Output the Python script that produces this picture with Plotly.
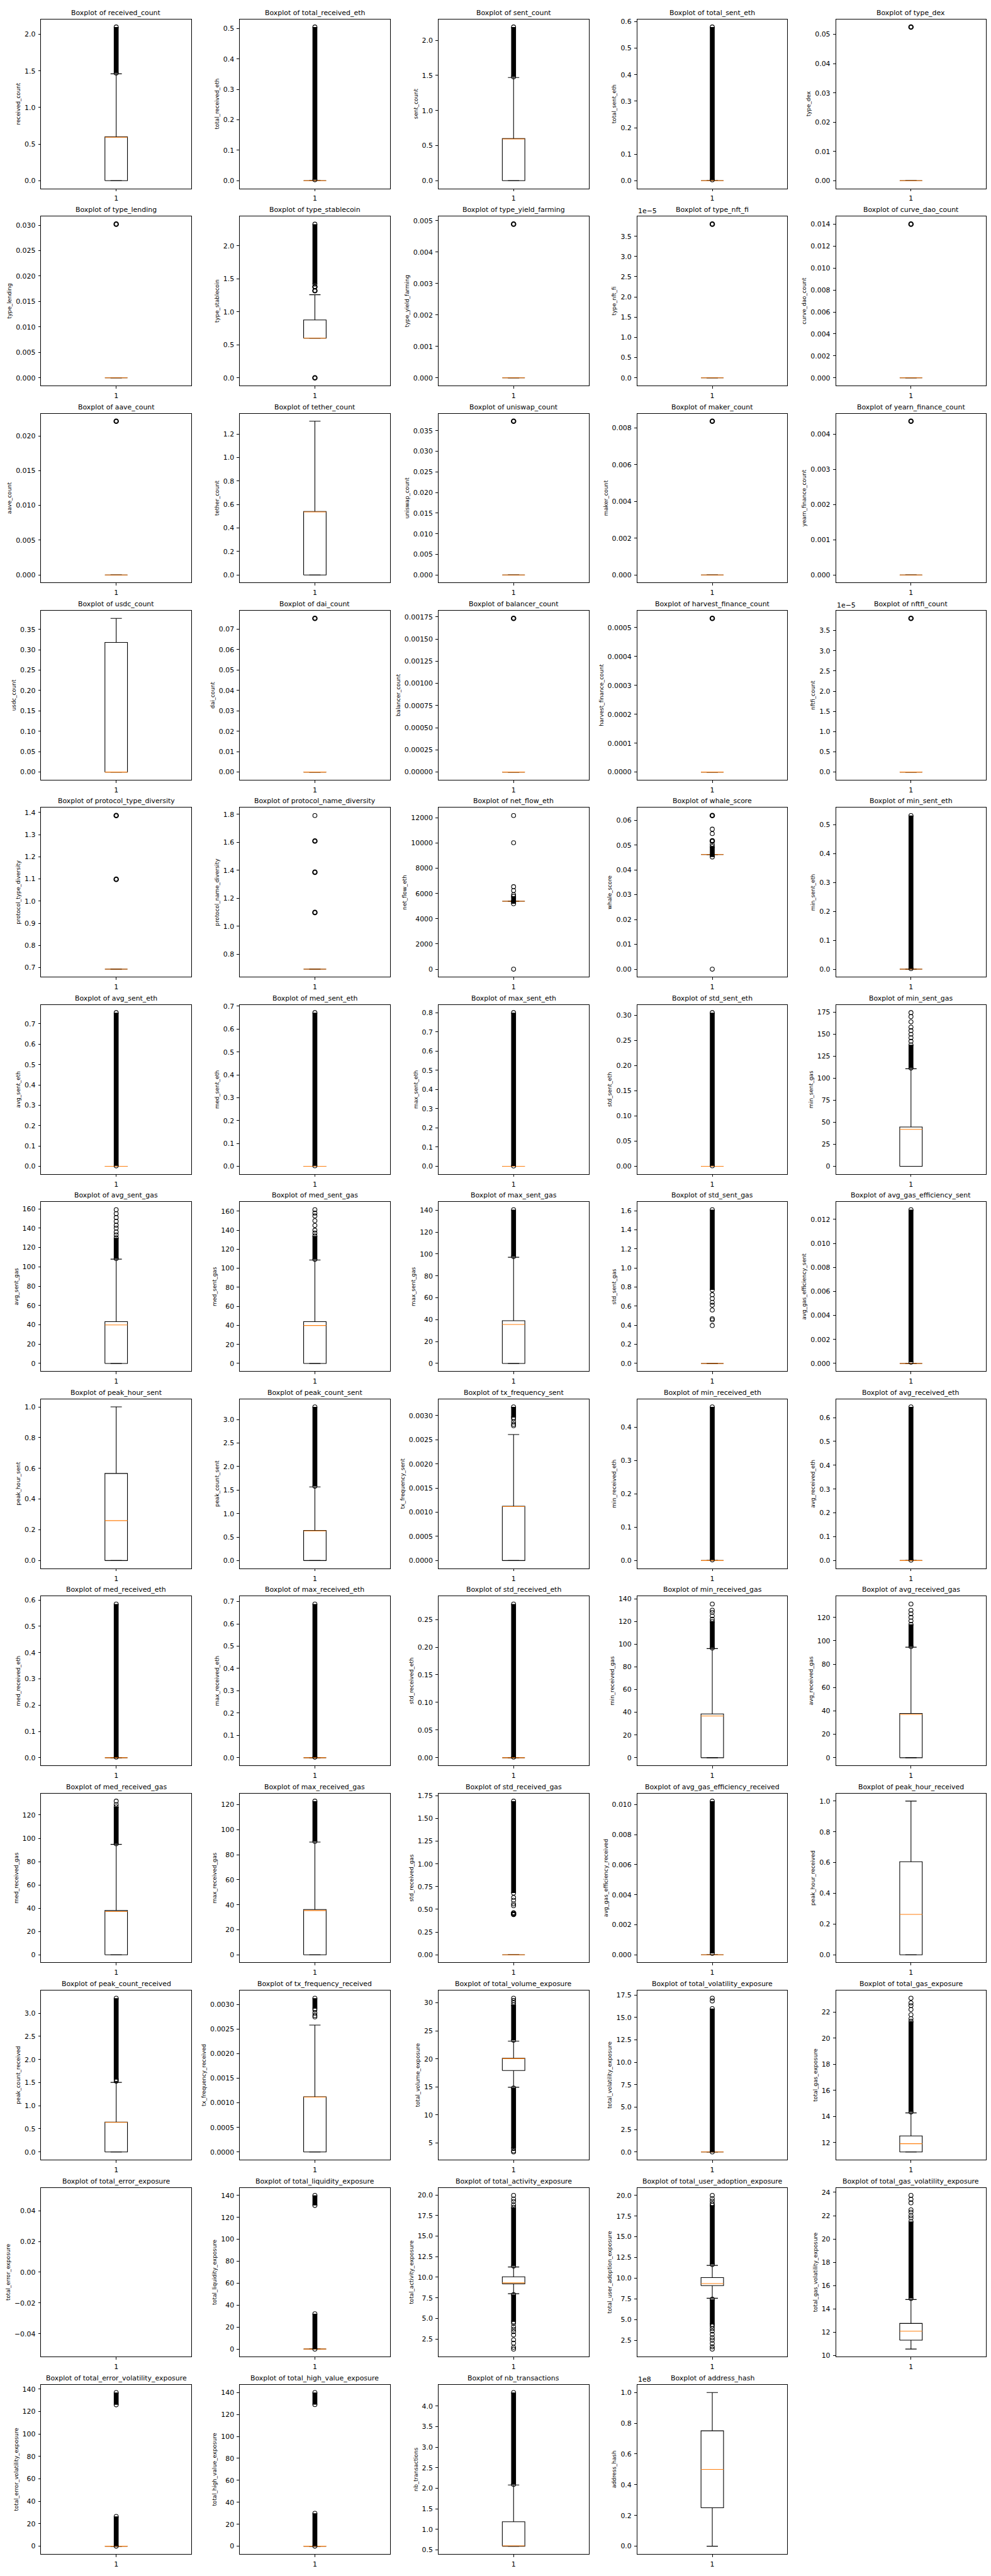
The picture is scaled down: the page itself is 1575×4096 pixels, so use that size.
import plotly.graph_objects as go

# ---------------- data ----------------
NAMES = [
    "received_count", "total_received_eth", "sent_count", "total_sent_eth", "type_dex",
    "type_lending", "type_stablecoin", "type_yield_farming", "type_nft_fi", "curve_dao_count",
    "aave_count", "tether_count", "uniswap_count", "maker_count", "yearn_finance_count",
    "usdc_count", "dai_count", "balancer_count", "harvest_finance_count", "nftfi_count",
    "protocol_type_diversity", "protocol_name_diversity", "net_flow_eth", "whale_score", "min_sent_eth",
    "avg_sent_eth", "med_sent_eth", "max_sent_eth", "std_sent_eth", "min_sent_gas",
    "avg_sent_gas", "med_sent_gas", "max_sent_gas", "std_sent_gas", "avg_gas_efficiency_sent",
    "peak_hour_sent", "peak_count_sent", "tx_frequency_sent", "min_received_eth", "avg_received_eth",
    "med_received_eth", "max_received_eth", "std_received_eth", "min_received_gas", "avg_received_gas",
    "med_received_gas", "max_received_gas", "std_received_gas", "avg_gas_efficiency_received", "peak_hour_received",
    "peak_count_received", "tx_frequency_received", "total_volume_exposure", "total_volatility_exposure", "total_gas_exposure",
    "total_error_exposure", "total_liquidity_exposure", "total_activity_exposure", "total_user_adoption_exposure", "total_gas_volatility_exposure",
    "total_error_volatility_exposure", "total_high_value_exposure", "nb_transactions", "address_hash",
]

Q1 = [
    0, 0, 0, 0, 0,
    0, 0.6, 0, 0, 0,
    0, 0, 0, 0, 0,
    0, 0, 0, 0, 0,
    0.6931, 0.6931, 5383, 0.0462, 0,
    0, 0, 0, 0, 0,
    0, 0, 0, 0, 0,
    0, 0, 0, 0, 0,
    0, 0, 0, 0, 0,
    0, 0, 0, 0, 0,
    0, 0, 17.92, 0, 11.29,
    None, 0, 9.2, 9.1, 11.32,
    0, 0, 0.588, 0.25e8,
]
MED = [
    0.594, 0, 0.594, 0, 0,
    0, 0.6, 0, 0, 0,
    0, 0.537, 0, 0, 0,
    0, 0, 0, 0, 0,
    0.6931, 0.6931, 5383, 0.0462, 0,
    0, 0, 0, 0, 42.0,
    39.8, 39.9, 35.6, 0, 0,
    0.26, 0.63, 0.001118, 0, 0,
    0, 0, 0, 36.8, 37.0,
    37.1, 35.4, 0, 0, 0.263,
    0.64, 0.001117, 20.03, 0, 11.92,
    None, 0, 9.32, 9.34, 12.09,
    0, 0, 0.598, 0.4995e8,
]
Q3 = [
    0.6, 0, 0.6, 0, 0,
    0, 0.877, 0, 0, 0,
    0, 0.541, 0, 0, 0,
    0.318, 0, 0, 0, 0,
    0.6931, 0.6931, 5383, 0.0462, 0,
    0, 0, 0, 0, 44.6,
    43.2, 43.9, 39.0, 0, 0,
    0.567, 0.64, 0.001125, 0, 0,
    0, 0, 0, 38.6, 37.8,
    38.0, 36.2, 0, 0, 0.606,
    0.645, 0.001122, 20.1, 0, 12.52,
    None, 0, 10.06, 10.07, 12.76,
    0, 0, 1.184, 0.751e8,
]
WLO = [
    0, 0, 0, 0, 0,
    0, 0.6, 0, 0, 0,
    0, 0, 0, 0, 0,
    0, 0, 0, 0, 0,
    0.6931, 0.6931, 5383, 0.0462, 0,
    0, 0, 0, 0, 0,
    0, 0, 0, 0, 0,
    0, 0, 0, 0, 0,
    0, 0, 0, 0, 0,
    0, 0, 0, 0, 0,
    0, 0, 14.93, 0, 11.29,
    None, 0, 8.0, 7.57, 10.56,
    0, 0, 0.588, 0,
]
WHI = [
    1.46, 0, 1.47, 0, 0,
    0, 1.26, 0, 0, 0,
    0, 1.31, 0, 0, 0,
    0.377, 0, 0, 0, 0,
    0.6931, 0.6931, 5383, 0.0462, 0,
    0, 0, 0, 0, 110.8,
    107.9, 108.7, 97.0, 0, 0,
    1.0, 1.567, 0.002608, 0, 0,
    0, 0, 0, 96.1, 94.5,
    94.8, 90.1, 0, 0, 1.0,
    1.505, 0.002583, 23.16, 0, 14.28,
    None, 0, 11.25, 11.54, 14.81,
    0, 0, 2.079, 1.0e8,
]

# packed runs of outliers (so many circles that they merge into a solid bar): [low, high]
DENSE = [
    [[1.47, 2.1]], [[0.003, 0.505]], [[1.48, 2.19]], [[0.003, 0.58]], [],
    [], [[1.42, 2.33]], [], [], [],
    [], [], [], [], [],
    [], [], [], [], [],
    [], [], [[5190, 5375], [5390, 5780]], [[0.0452, 0.0494]], [[0.002, 0.532]],
    [[0.002, 0.755]], [[0.002, 0.672]], [[0.002, 0.80]], [[0.001, 0.305]], [[111.5, 138]],
    [[108.5, 130]], [[109.3, 134]], [[97.6, 140.4]], [[0.77, 1.61]], [[0.0001, 0.0128]],
    [], [[1.58, 3.27]], [[0.00296, 0.00318]], [[0.002, 0.461]], [[0.002, 0.645]],
    [[0.002, 0.585]], [[0.002, 0.689]], [[0.001, 0.278]], [[96.6, 120]], [[95.0, 114]],
    [[95.3, 127]], [[90.6, 122.8]], [[0.68, 1.69]], [[0.0001, 0.01023]], [],
    [[1.57, 3.325]], [[0.00292, 0.00313]], [[23.3, 29.6], [4.0, 14.8]], [[0.001, 16.0]], [[14.35, 21.3]],
    [], [[0.001, 32.2], [130.8, 140]], [[11.35, 18.5], [4.6, 7.9]], [[11.65, 18.8], [4.4, 7.45]], [[14.9, 21.5]],
    [[0.001, 26.5], [126, 137]], [[0.001, 30.0], [129, 140]], [[2.09, 4.33]], [],
]

# isolated outliers (single rows)
FLIERS = [
    [], [], [], [], [],
    [], [], [], [], [],
    [], [], [], [], [],
    [], [], [], [], [],
    [], [1.7918],
    [0, 5910, 6235, 6536, 10020, 12180],
    [0.0, 0.0503, 0.0518, 0.0546, 0.0564], [],
    [], [], [], [], [142, 146, 150, 154, 158, 164, 170, 174.5],
    [133, 136, 140, 143, 147, 151, 155, 159], [137, 140, 145, 150, 155, 158, 161.5], [],
    [0.397, 0.456, 0.469, 0.56, 0.61, 0.64, 0.68, 0.72], [],
    [], [], [0.00279, 0.00282, 0.00287, 0.00293], [], [],
    [], [], [], [122, 125, 128, 130, 135.4], [117, 120, 123, 126, 131.4],
    [129, 131.9], [], [0.54, 0.56, 0.60, 0.63], [], [],
    [1.53, 1.55], [0.00275, 0.00278, 0.00283, 0.00289], [30.0, 30.4, 30.8, 3.4, 3.6],
    [16.85, 17.15], [21.5, 21.8, 22.2, 22.5, 22.7, 23.06],
    [], [], [18.8, 19.2, 19.5, 19.94, 1.28, 1.5, 2.0, 2.4, 3.0, 3.4, 3.7, 4.0, 4.4],
    [19.0, 19.3, 19.6, 20.0, 1.43, 1.7, 2.1, 2.5, 2.8, 3.2, 3.6, 3.9, 4.2],
    [21.8, 22.0, 22.3, 22.5, 23.1, 23.4, 23.74],
    [], [], [], [],
]

# outliers shared by many rows (stacked circles look heavier)
FLIERS_MANY = [
    [], [], [], [], [0.0525],
    [0.0302], [0.0, 1.32, 1.38], [0.00489], [3.8e-5], [0.0140],
    [0.0221], [], [0.0373], [0.00836], [0.00437],
    [], [0.0753], [0.001733], [0.000532], [3.8e-5],
    [1.0986, 1.3863], [1.0986, 1.3863, 1.6094], [], [0.0516, 0.0619], [],
    [], [], [], [], [],
    [], [], [], [], [],
    [], [], [], [], [],
    [], [], [], [], [],
    [], [], [0.445, 0.46], [], [],
    [], [], [], [], [],
    [], [], [], [], [],
    [], [], [], [],
]

T_05_20 = ["0.0", "0.5", "1.0", "1.5", "2.0"]
T_0_140 = ["0", "20", "40", "60", "80", "100", "120", "140"]
T_0_120 = ["0", "20", "40", "60", "80", "100", "120"]
T_0_160 = ["0", "20", "40", "60", "80", "100", "120", "140", "160"]
T_0_10 = ["0.0", "0.2", "0.4", "0.6", "0.8", "1.0"]
T_0_30 = ["0.0", "0.5", "1.0", "1.5", "2.0", "2.5", "3.0"]
T_0_35 = ["0.0", "0.5", "1.0", "1.5", "2.0", "2.5", "3.0", "3.5"]
T_0030 = ["0.0000", "0.0005", "0.0010", "0.0015", "0.0020", "0.0025", "0.0030"]
T_25_20 = ["2.5", "5.0", "7.5", "10.0", "12.5", "15.0", "17.5", "20.0"]
T_TENTHS = ["0.0", "0.1", "0.2", "0.3", "0.4", "0.5", "0.6", "0.7", "0.8"]

YTICKS = [
    T_05_20, T_TENTHS[:6], T_05_20, T_TENTHS[:7], ["0.00", "0.01", "0.02", "0.03", "0.04", "0.05"],
    ["0.000", "0.005", "0.010", "0.015", "0.020", "0.025", "0.030"], T_05_20,
    ["0.000", "0.001", "0.002", "0.003", "0.004", "0.005"], T_0_35,
    ["0.000", "0.002", "0.004", "0.006", "0.008", "0.010", "0.012", "0.014"],
    ["0.000", "0.005", "0.010", "0.015", "0.020"], ["0.0", "0.2", "0.4", "0.6", "0.8", "1.0", "1.2"],
    ["0.000", "0.005", "0.010", "0.015", "0.020", "0.025", "0.030", "0.035"],
    ["0.000", "0.002", "0.004", "0.006", "0.008"], ["0.000", "0.001", "0.002", "0.003", "0.004"],
    ["0.00", "0.05", "0.10", "0.15", "0.20", "0.25", "0.30", "0.35"],
    ["0.00", "0.01", "0.02", "0.03", "0.04", "0.05", "0.06", "0.07"],
    ["0.00000", "0.00025", "0.00050", "0.00075", "0.00100", "0.00125", "0.00150", "0.00175"],
    ["0.0000", "0.0001", "0.0002", "0.0003", "0.0004", "0.0005"], T_0_35,
    ["0.7", "0.8", "0.9", "1.0", "1.1", "1.2", "1.3", "1.4"], ["0.8", "1.0", "1.2", "1.4", "1.6", "1.8"],
    ["0", "2000", "4000", "6000", "8000", "10000", "12000"],
    ["0.00", "0.01", "0.02", "0.03", "0.04", "0.05", "0.06"], T_TENTHS[:6],
    T_TENTHS[:8], T_TENTHS[:8], T_TENTHS[:9], ["0.00", "0.05", "0.10", "0.15", "0.20", "0.25", "0.30"],
    ["0", "25", "50", "75", "100", "125", "150", "175"],
    T_0_160, T_0_160, T_0_140, ["0.0", "0.2", "0.4", "0.6", "0.8", "1.0", "1.2", "1.4", "1.6"],
    ["0.000", "0.002", "0.004", "0.006", "0.008", "0.010", "0.012"],
    T_0_10, T_0_30, T_0030, T_TENTHS[:5], T_TENTHS[:7],
    T_TENTHS[:7], T_TENTHS[:8], ["0.00", "0.05", "0.10", "0.15", "0.20", "0.25"], T_0_140, T_0_120,
    T_0_120, T_0_120, ["0.00", "0.25", "0.50", "0.75", "1.00", "1.25", "1.50", "1.75"],
    ["0.000", "0.002", "0.004", "0.006", "0.008", "0.010"], T_0_10,
    T_0_30, T_0030, ["5", "10", "15", "20", "25", "30"],
    ["0.0", "2.5", "5.0", "7.5", "10.0", "12.5", "15.0", "17.5"], ["12", "14", "16", "18", "20", "22"],
    ["−0.04", "−0.02", "0.00", "0.02", "0.04"], T_0_140, T_25_20, T_25_20,
    ["10", "12", "14", "16", "18", "20", "22", "24"],
    T_0_140, T_0_140, ["0.5", "1.0", "1.5", "2.0", "2.5", "3.0", "3.5", "4.0"], T_0_10,
]
TICK_MULT = {8: 1e-5, 19: 1e-5, 63: 1e8}
OFFSET_TEXT = {8: "1e−5", 19: "1e−5", 63: "1e8"}
EMPTY_YLIM = {55: (-0.055, 0.055)}

# ---------------- styling ----------------
S = 1575 / 2000.0          # reference -> window scale
FONT = "DejaVu Sans"
FS_TICK = 13.89 * S
FS_LABEL = 11.11 * S
LW = 1.389 * S             # 1 pt line
SPINE = 1.111 * S          # 0.8 pt
TICKLEN = 4.86 * S
MS = 8.33 * S              # 6 pt marker
ORANGE = "#ff7f0e"
BOXW = 0.15
CAPW = 0.075

fig = go.Figure()
layout = dict(
    width=1575, height=4096, margin=dict(l=0, r=0, t=0, b=0),
    paper_bgcolor="white", plot_bgcolor="white", showlegend=False,
    font=dict(family=FONT, color="black", size=FS_TICK),
)
annotations = []


def ring(width):
    return dict(symbol="circle-open", size=MS, color="black", line=dict(width=width, color="black"))


for i, name in enumerate(NAMES):
    r, c = divmod(i, 5)
    left = 83 + 401 * c
    top = 34 + 398.8 * r
    x0, x1 = left / 2000.0, (left + 303) / 2000.0
    y1, y0 = 1 - top / 5200.0, 1 - (top + 342) / 5200.0
    sfx = "" if i == 0 else str(i + 1)
    xa, ya = "x" + sfx, "y" + sfx

    q1, md, q3, lo, hi = Q1[i], MED[i], Q3[i], WLO[i], WHI[i]
    if q1 is not None:
        bx = [1 - BOXW / 2, 1 + BOXW / 2, 1 + BOXW / 2, 1 - BOXW / 2, 1 - BOXW / 2, None,
              1, 1, None, 1, 1, None,
              1 - CAPW / 2, 1 + CAPW / 2, None, 1 - CAPW / 2, 1 + CAPW / 2]
        by = [q1, q1, q3, q3, q1, None,
              q1, lo, None, q3, hi, None,
              lo, lo, None, hi, hi]
        fig.add_trace(go.Scatter(x=bx, y=by, xaxis=xa, yaxis=ya, mode="lines",
                                 line=dict(color="black", width=LW), hoverinfo="skip"))
        fig.add_trace(go.Scatter(x=[1 - BOXW / 2, 1 + BOXW / 2], y=[md, md], xaxis=xa, yaxis=ya,
                                 mode="lines", line=dict(color=ORANGE, width=LW), hoverinfo="skip"))
    else:
        # empty column: keep the (empty) axes alive
        fig.add_trace(go.Scatter(x=[None], y=[None], xaxis=xa, yaxis=ya, mode="lines",
                                 hoverinfo="skip"))
    for seg in DENSE[i]:
        fig.add_trace(go.Scatter(x=[1, 1], y=seg, xaxis=xa, yaxis=ya, mode="lines+markers",
                                 line=dict(color="black", width=MS + LW),
                                 marker=ring(LW), hoverinfo="skip"))
    if FLIERS[i]:
        fig.add_trace(go.Scatter(x=[1] * len(FLIERS[i]), y=FLIERS[i], xaxis=xa, yaxis=ya,
                                 mode="markers", marker=ring(LW), hoverinfo="skip"))
    if FLIERS_MANY[i]:
        fig.add_trace(go.Scatter(x=[1] * len(FLIERS_MANY[i]), y=FLIERS_MANY[i], xaxis=xa, yaxis=ya,
                                 mode="markers", marker=ring(2.0), hoverinfo="skip"))

    # matplotlib-like autoscale (5 % margins)
    if i in EMPTY_YLIM:
        ylo, yhi = EMPTY_YLIM[i]
    else:
        vals = [lo, hi] + list(FLIERS[i]) + list(FLIERS_MANY[i]) + [v for seg in DENSE[i] for v in seg]
        vmin, vmax = min(vals), max(vals)
        pad = 0.05 * (vmax - vmin)
        ylo, yhi = vmin - pad, vmax + pad

    mult = TICK_MULT.get(i, 1.0)
    tv = [float(t.replace("−", "-")) * mult for t in YTICKS[i]]

    axis_common = dict(showline=True, mirror=True, linecolor="black", linewidth=SPINE,
                       showgrid=False, zeroline=False, ticks="outside", ticklen=TICKLEN,
                       tickwidth=SPINE, tickcolor="black", ticklabelstandoff=2,
                       tickfont=dict(family=FONT, size=FS_TICK, color="black"),
                       fixedrange=True)
    layout["xaxis" + sfx] = dict(domain=[x0, x1], anchor=ya, range=[0.5, 1.5],
                                 tickmode="array", tickvals=[1], ticktext=["1"], **axis_common)
    layout["yaxis" + sfx] = dict(domain=[y0, y1], anchor=xa, range=[ylo, yhi],
                                 tickmode="array", tickvals=tv, ticktext=YTICKS[i],
                                 title=dict(text=name, standoff=4.4,
                                            font=dict(family=FONT, size=FS_LABEL, color="black")),
                                 **axis_common)

    annotations.append(dict(text="Boxplot of " + name, xref="paper", yref="paper",
                            x=(x0 + x1) / 2, y=y1, xanchor="center", yanchor="bottom",
                            yshift=3, showarrow=False, borderpad=0,
                            font=dict(family=FONT, size=FS_TICK, color="black")))
    if i in OFFSET_TEXT:
        annotations.append(dict(text=OFFSET_TEXT[i], xref="paper", yref="paper",
                                x=x0, y=y1, xanchor="left", yanchor="bottom",
                                yshift=1, showarrow=False, borderpad=0,
                                font=dict(family=FONT, size=FS_TICK, color="black")))

layout["annotations"] = annotations
fig.update_layout(**layout)
fig.write_html("out.html")
